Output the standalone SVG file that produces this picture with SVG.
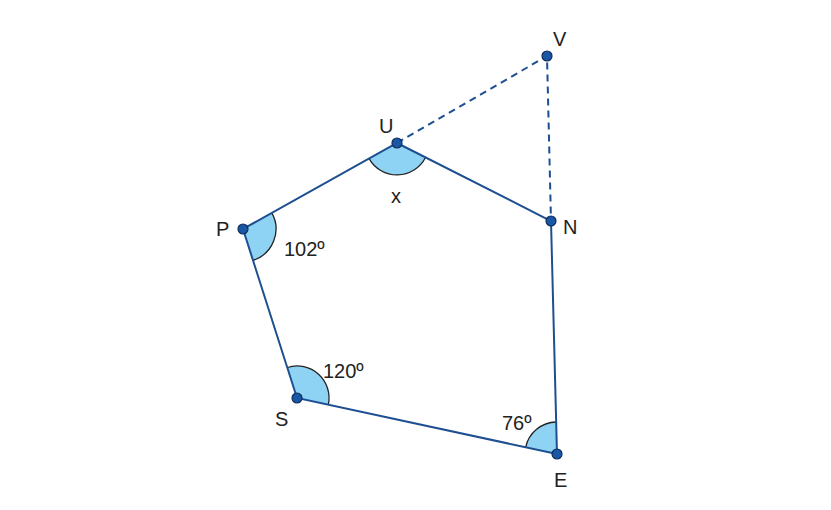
<svg xmlns="http://www.w3.org/2000/svg" width="831" height="510" viewBox="0 0 831 510">
<style>
.e{stroke:#1d4f91;stroke-width:2;fill:none}
.d{stroke:#1d4f91;stroke-width:2;fill:none;stroke-dasharray:7,5}
.a{fill:#8fd3f4;stroke:none}
.ar{fill:none;stroke:#222;stroke-width:1.3}
.p{fill:#1a56a6;stroke:#0d2d5c;stroke-width:1.2}
text{font-family:"Liberation Sans",Arial,sans-serif;font-size:20px;fill:#222}
</style>
<rect width="831" height="510" fill="#fff"/>
<g id="angles">
<path class="a" d="M397,143 L425.5,157.5 A32,32 0 0 1 369.1,158.6 Z"/>
<path class="ar" d="M425.5,157.5 A32,32 0 0 1 369.1,158.6"/>
<path class="a" d="M243,229 L271.8,212.9 A33,33 0 0 1 253,260.4 Z"/>
<path class="ar" d="M271.8,212.9 A33,33 0 0 1 253,260.4"/>
<path class="a" d="M297,398 L287.3,367.5 A32,32 0 0 1 328.3,404.8 Z"/>
<path class="ar" d="M287.3,367.5 A32,32 0 0 1 328.3,404.8"/>
<path class="a" d="M557,454 L525.7,447.2 A32,32 0 0 1 556.2,422 Z"/>
<path class="ar" d="M525.7,447.2 A32,32 0 0 1 556.2,422"/>
</g>
<g id="connectors">
<path class="e" d="M397,143 L551,221 L557,454 L297,398 L243,229 Z"/>
<path class="d" d="M397,143 L547,56 L551,221"/>
</g>
<g id="U"><circle class="p" cx="397" cy="143" r="5"/><text x="379" y="133">U</text></g>
<g id="V"><circle class="p" cx="547" cy="56" r="5"/><text x="553" y="46">V</text></g>
<g id="N"><circle class="p" cx="551" cy="221" r="5"/><text x="563" y="234">N</text></g>
<g id="E"><circle class="p" cx="557" cy="454" r="5"/><text x="554" y="487">E</text></g>
<g id="S"><circle class="p" cx="297" cy="398" r="5"/><text x="275" y="426">S</text></g>
<g id="P"><circle class="p" cx="243" cy="229" r="5"/><text x="216" y="236">P</text></g>
<g id="labels">
<text x="391" y="203">x</text>
<text x="284" y="256">102º</text>
<text x="323" y="378">120º</text>
<text x="502" y="430">76º</text>
</g>
</svg>
